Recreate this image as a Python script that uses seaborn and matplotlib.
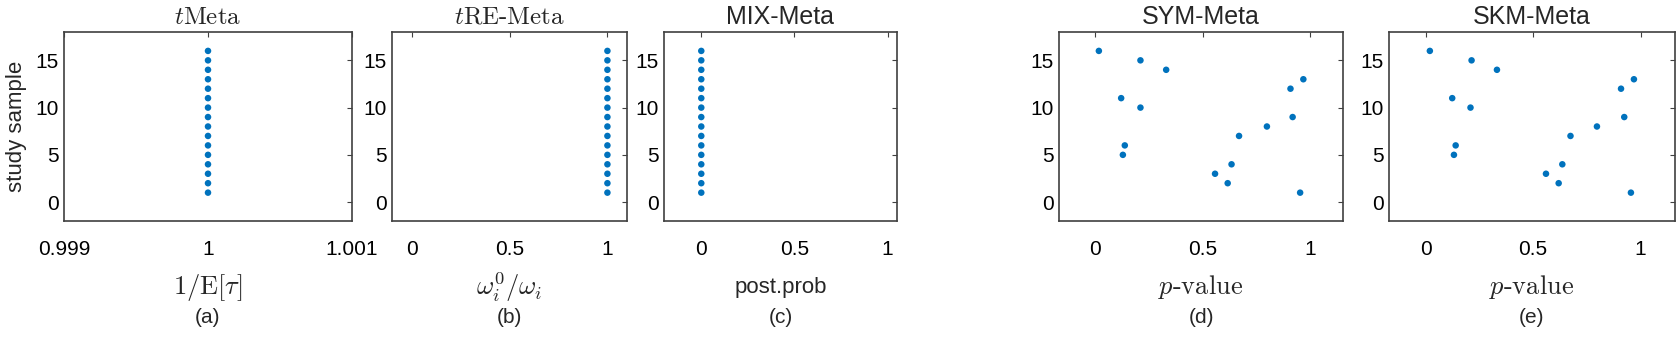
import numpy as np
import pandas as pd
import seaborn as sns
import matplotlib.pyplot as plt

# ---------------------------
# data
# ---------------------------
study = [1, 2, 3, 4, 5, 6, 7, 8, 9, 10, 11, 12, 13, 14, 15, 16]
tmeta_inv_tau = [1.0] * 16          # 1/E[tau]
tremeta_ratio = [1.0] * 16          # omega_i^0 / omega_i
mix_postprob = [0.0] * 16           # post.prob
sym_pvalue = [0.955, 0.617, 0.558, 0.635, 0.128, 0.137, 0.67, 0.80,
              0.92, 0.21, 0.12, 0.91, 0.97, 0.33, 0.21, 0.016]
skm_pvalue = [0.955, 0.619, 0.560, 0.636, 0.132, 0.140, 0.674, 0.797,
              0.924, 0.209, 0.124, 0.909, 0.969, 0.332, 0.214, 0.020]

titles = [r'$t\mathrm{Meta}$', r'$t\text{RE-Meta}$', 'MIX-Meta', 'SYM-Meta', 'SKM-Meta']
xlabels = [r'$1/\mathrm{E}[\tau]$', r'$\omega_i^0/\omega_i$', 'post.prob',
           r'$p\text{-value}$', r'$p\text{-value}$']
tags = ['(a)', '(b)', '(c)', '(d)', '(e)']
xvalues = [tmeta_inv_tau, tremeta_ratio, mix_postprob, sym_pvalue, skm_pvalue]
xlims = [(0.999, 1.001), (-0.1, 1.1), (-0.2, 1.05), (-0.17, 1.155), (-0.17, 1.16)]
xticks = [[0.999, 1, 1.001], [0, 0.5, 1], [0, 0.5, 1], [0, 0.5, 1], [0, 0.5, 1]]
xticklabels = [['0.999', '1', '1.001'], ['0', '0.5', '1'], ['0', '0.5', '1'],
               ['0', '0.5', '1'], ['0', '0.5', '1']]

# axes boxes in pixels: left, right (figure is 1677 x 339)
W, H = 1677, 339
boxes = [(64, 352), (392, 627), (664, 897), (1059, 1343), (1389, 1675)]
top_px, bot_px = 32, 221

sns.set_style('white')
plt.rcParams['font.family'] = ['Liberation Sans', 'DejaVu Sans']
plt.rcParams['mathtext.fontset'] = 'cm'

blue = '#0072BD'
edge = '#404040'

fig = plt.figure(figsize=(W / 100, H / 100), dpi=100)

for i in range(5):
    l, r = boxes[i]
    ax = fig.add_axes([l / W, 1 - bot_px / H, (r - l) / W, (bot_px - top_px) / H])
    df = pd.DataFrame({'x': xvalues[i], 'y': study})
    sns.scatterplot(data=df, x='x', y='y', ax=ax, color=blue, s=22,
                    edgecolor='none', linewidth=0)
    ax.set_xlim(*xlims[i])
    ax.set_ylim(-2, 18)
    ax.set_xticks(xticks[i])
    ax.set_xticklabels(xticklabels[i])
    ax.set_yticks([0, 5, 10, 15])
    ax.tick_params(direction='in', length=3.5, width=0.8, color=edge,
                   top=True, right=True, labelsize=15, labelcolor='black')
    ax.tick_params(axis='x', pad=14)
    ax.tick_params(axis='y', pad=4)
    for sp in ax.spines.values():
        sp.set_color(edge)
        sp.set_linewidth(1.2)
    ax.set_title(titles[i], fontsize=18, pad=6)
    ax.set_ylabel('')
    # mathtext labels look smaller than sans text at same size
    fs = 16 if xlabels[i] == 'post.prob' else 19
    ax.set_xlabel(xlabels[i], fontsize=fs, va='center')
    ax.xaxis.set_label_coords(0.5, -0.35)
    ax.text(0.5, -0.51, tags[i], transform=ax.transAxes, ha='center',
            va='center', fontsize=15)

fig.text(17 / W, 1 - (top_px + bot_px) / 2 / H, 'study sample', rotation=90,
         ha='center', va='center', fontsize=16)

fig.savefig('out.png', dpi=100)
